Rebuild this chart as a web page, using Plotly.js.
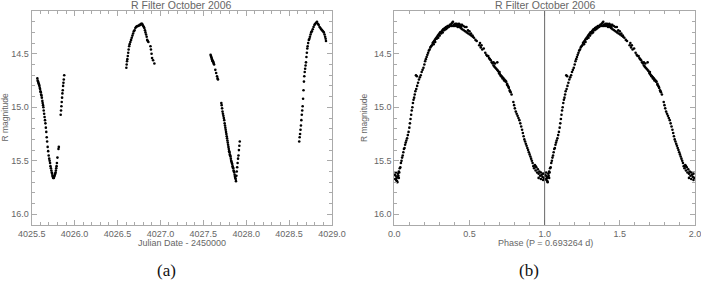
<!DOCTYPE html>
<html><head><meta charset="utf-8">
<script src="https://cdn.plot.ly/plotly-3.0.1.min.js"></script>
<style>html,body{margin:0;padding:0;background:#fff}#chart{width:701px;height:281px}</style>
</head><body><div id="chart"></div>
<script>
// Left panel: Julian Date - 2450000 and R magnitude
const jd = [
 4025.566,4025.570,4025.574,4025.578,4025.582,4025.586,4025.590,4025.594,4025.598,4025.602,4025.606,4025.610,4025.614,4025.618,4025.624,4025.628,4025.632,4025.636,4025.640,4025.645,4025.650,4025.655,4025.660,4025.665,4025.670,4025.675,4025.680,4025.686,4025.692,4025.698,4025.704,4025.709,4025.714,4025.719,4025.724,4025.729,4025.734,4025.738,4025.742,4025.746,4025.750,4025.754,4025.758,4025.762,4025.766,4025.770,4025.774,4025.778,4025.782,4025.786,4025.790,4025.794,4025.800,4025.812,4025.816,
 4025.838,4025.842,4025.846,4025.850,4025.854,4025.858,4025.862,4025.866,4025.870,4025.874,4025.879,
 4026.603,4026.607,4026.611,4026.615,4026.620,4026.625,4026.630,4026.636,4026.642,4026.650,4026.658,4026.666,4026.674,4026.682,4026.690,4026.698,4026.708,4026.716,4026.724,4026.732,4026.740,4026.750,4026.758,4026.767,4026.776,4026.786,4026.793,4026.800,4026.807,4026.813,4026.820,4026.826,4026.833,4026.840,4026.846,4026.853,4026.860,4026.884,4026.890,4026.897,4026.903,4026.915,4026.930,
 4027.585,4027.589,4027.593,4027.597,4027.601,4027.605,4027.609,4027.613,4027.617,4027.621,4027.626,4027.640,4027.650,4027.660,4027.666,4027.671,
 4027.710,4027.714,4027.719,4027.724,4027.729,4027.734,4027.739,4027.744,4027.749,4027.753,4027.757,4027.761,4027.765,4027.769,4027.773,4027.777,4027.781,4027.785,4027.789,4027.793,4027.797,4027.801,4027.805,4027.809,4027.813,4027.817,4027.821,4027.825,4027.829,4027.833,4027.837,4027.841,4027.845,4027.849,4027.853,4027.857,4027.861,4027.865,4027.869,4027.873,4027.877,4027.881,4027.886,4027.890,4027.895,4027.900,4027.905,4027.910,4027.915,4027.920,4027.925,
 4028.618,4028.623,4028.628,4028.633,4028.638,4028.643,4028.648,4028.653,4028.658,4028.663,4028.668,4028.673,4028.677,4028.682,4028.687,4028.692,4028.697,4028.702,4028.707,4028.712,4028.716,4028.722,4028.730,4028.737,4028.743,4028.750,4028.757,4028.765,4028.775,4028.785,4028.795,4028.805,4028.815,4028.825,4028.835,4028.845,4028.855,4028.865,4028.875,4028.885,4028.895,4028.905,4028.913,4028.920,4028.926,4028.930
];
const mag = [
 14.73,14.75,14.76,14.77,14.78,14.79,14.80,14.82,14.83,14.85,14.86,14.88,14.89,14.91,14.94,14.96,14.98,15.00,15.03,15.06,15.09,15.12,15.15,15.19,15.23,15.28,15.32,15.37,15.41,15.45,15.48,15.50,15.52,15.55,15.57,15.59,15.61,15.62,15.64,15.65,15.66,15.65,15.66,15.65,15.64,15.63,15.62,15.61,15.59,15.57,15.55,15.52,15.47,15.39,15.37,
 15.07,15.03,14.99,14.95,14.91,14.87,14.84,14.80,14.77,14.74,14.70,
 14.63,14.60,14.57,14.55,14.52,14.49,14.46,14.43,14.41,14.39,14.37,14.35,14.33,14.31,14.29,14.28,14.26,14.25,14.245,14.24,14.24,14.235,14.23,14.23,14.22,14.22,14.23,14.24,14.25,14.26,14.28,14.30,14.32,14.34,14.37,14.38,14.39,14.43,14.46,14.50,14.54,14.56,14.59,
 14.51,14.52,14.53,14.54,14.55,14.56,14.57,14.57,14.58,14.59,14.60,14.65,14.68,14.71,14.73,14.74,
 14.96,14.98,15.01,15.04,15.06,15.08,15.10,15.12,15.15,15.17,15.19,15.21,15.23,15.25,15.27,15.29,15.31,15.33,15.35,15.37,15.39,15.41,15.42,15.44,15.45,15.46,15.48,15.50,15.51,15.52,15.53,15.55,15.56,15.57,15.59,15.60,15.61,15.63,15.65,15.66,15.67,15.69,15.64,15.60,15.56,15.52,15.48,15.45,15.40,15.36,15.32,
 15.32,15.28,15.25,15.21,15.17,15.12,15.07,15.03,14.99,14.92,14.84,14.76,14.71,14.67,14.64,14.61,14.58,14.53,14.49,14.45,14.43,14.40,14.37,14.36,14.34,14.32,14.30,14.29,14.27,14.25,14.23,14.22,14.21,14.20,14.22,14.23,14.25,14.26,14.27,14.28,14.29,14.30,14.32,14.34,14.36,14.38
];

// Right panel: phase (P = 0.693264 d) and R magnitude, plotted over two cycles
const phase = [
 0.003,0.006,0.009,0.012,0.015,0.018,0.021,0.024,0.027,0.030,0.033,0.036,0.040,0.044,0.048,0.052,0.056,0.060,0.064,0.068,0.072,0.076,0.080,0.085,0.090,0.095,0.100,0.104,0.108,0.112,0.116,0.120,0.124,0.128,0.132,0.136,0.140,0.144,0.150,0.146,0.152,0.158,0.164,0.170,0.176,0.182,0.188,0.194,0.200,0.205,0.210,0.215,0.220,0.225,0.230,0.235,0.240,0.245,0.250,0.255,0.260,0.265,0.270,0.275,0.280,0.285,0.290,0.295,0.300,0.305,0.310,0.315,0.320,0.325,0.330,0.335,0.340,0.345,0.350,0.355,0.360,0.365,0.370,0.375,0.380,0.385,0.390,0.395,0.400,0.405,0.410,0.415,0.420,0.425,0.430,0.435,0.440,0.445,0.450,0.460,0.470,0.480,0.490,0.500,0.510,0.520,0.530,0.540,0.548,0.565,0.570,0.575,0.580,0.585,0.595,0.605,0.612,0.618,0.625,0.630,0.636,0.660,0.670,0.685,0.642,0.648,0.654,0.660,0.666,0.672,0.678,0.684,0.690,0.696,0.702,0.708,0.714,0.720,0.726,0.732,0.738,0.744,0.750,0.756,0.762,0.768,0.774,0.780,0.792,0.797,0.802,0.808,0.814,0.820,0.826,0.832,0.838,0.844,0.850,0.855,0.860,0.865,0.870,0.875,0.880,0.885,0.890,0.895,0.900,0.905,0.910,0.915,0.920,0.925,0.930,0.935,0.940,0.945,0.950,0.955,0.960,0.965,0.970,0.975,0.980,0.985,0.990,0.995,
 0.262,0.272,0.282,0.292,0.302,0.312,0.322,0.332,0.342,0.352,0.362,0.372,0.382,0.392,0.402,0.412,0.422,0.432,0.442,0.452,0.462,0.472,0.482,0.492,0.502,0.512,0.522,
 0.700,0.710,0.720,0.730,0.740,0.750,0.760,0.770,
 0.010,0.020,0.030,0.940,0.960,0.975,0.990
];
const phaseMag = [
 15.63,15.67,15.64,15.68,15.66,15.69,15.65,15.62,15.64,15.60,15.61,15.57,15.56,15.52,15.50,15.47,15.45,15.42,15.39,15.38,15.35,15.33,15.31,15.29,15.26,15.23,15.19,15.15,15.11,15.07,15.03,15.00,14.96,14.93,14.91,14.88,14.85,14.70,14.71,14.83,14.80,14.77,14.74,14.72,14.70,14.67,14.65,14.63,14.60,14.57,14.55,14.53,14.51,14.49,14.47,14.46,14.44,14.43,14.42,14.40,14.39,14.38,14.37,14.36,14.35,14.34,14.33,14.32,14.31,14.30,14.30,14.29,14.28,14.27,14.27,14.26,14.26,14.25,14.25,14.24,14.24,14.24,14.23,14.23,14.22,14.21,14.20,14.23,14.23,14.22,14.23,14.22,14.23,14.23,14.22,14.24,14.23,14.25,14.23,14.24,14.25,14.25,14.28,14.29,14.31,14.33,14.35,14.37,14.38,14.42,14.40,14.44,14.42,14.46,14.45,14.49,14.51,14.52,14.52,14.54,14.55,14.58,14.59,14.58,14.56,14.58,14.59,14.61,14.62,14.63,14.64,14.65,14.66,14.68,14.69,14.70,14.71,14.72,14.73,14.74,14.75,14.76,14.78,14.80,14.82,14.84,14.86,14.88,14.95,14.98,15.01,15.04,15.06,15.08,15.10,15.12,15.15,15.18,15.21,15.24,15.27,15.30,15.32,15.34,15.36,15.38,15.40,15.42,15.44,15.46,15.48,15.50,15.52,15.55,15.57,15.54,15.59,15.56,15.61,15.58,15.62,15.60,15.64,15.61,15.63,15.65,15.62,15.66,
 14.41,14.39,14.36,14.35,14.33,14.31,14.30,14.28,14.27,14.26,14.25,14.24,14.24,14.24,14.24,14.24,14.25,14.25,14.26,14.27,14.28,14.29,14.30,14.31,14.32,14.33,14.34,
 14.67,14.71,14.73,14.75,14.76,14.79,14.81,14.85,
 15.61,15.70,15.66,15.55,15.66,15.67,15.68
];
const phaseTwoCycles = phase.concat(phase.map(p => p + 1));
const phaseMagTwoCycles = phaseMag.concat(phaseMag);

const xTitles = ['Julian Date - 2450000', 'Phase (P = 0.693264 d)'];
const plotTitle = 'R Filter October 2006';
const yTitle = 'R magnitude';
const captions = ['(a)', '(b)'];

const W = 701, H = 281;
const gray = '#666';
const axisGray = '#aaa';
const sans = 'Liberation Sans, Arial, sans-serif';
const tickFont = {family: sans, size: 9, color: gray};
const px = v => v / W;
const py = v => 1 - v / H;

function xax(domain, range, anchor) {
  return {domain, range, anchor, tick0: 0, dtick: 0.5, tickformat: '.1f',
    ticks: 'inside', ticklen: 5, tickwidth: 1, tickcolor: axisGray,
    showline: true, linecolor: axisGray, linewidth: 1, mirror: 'ticks',
    showgrid: false, zeroline: false, tickfont: tickFont, ticklabeloverflow: 'allow',
    minor: {dtick: 0.1, ticks: 'inside', ticklen: 3, tickcolor: axisGray, showgrid: false}};
}
function yax(anchor) {
  return {domain: [py(225), py(11)], range: [16.1, 14.1], anchor, tick0: 14.5, dtick: 0.5, tickformat: '.1f',
    ticks: 'inside', ticklen: 5, tickwidth: 1, tickcolor: axisGray,
    showline: true, linecolor: axisGray, linewidth: 1, mirror: 'ticks',
    showgrid: false, zeroline: false, tickfont: tickFont,
    minor: {dtick: 0.1, ticks: 'inside', ticklen: 3, tickcolor: axisGray, showgrid: false}};
}

const marker = {color: '#000', size: 2.6, symbol: 'circle', line: {width: 0}};
const data = [
  {x: jd, y: mag, type: 'scatter', mode: 'markers', marker, xaxis: 'x', yaxis: 'y', hoverinfo: 'skip', cliponaxis: false},
  {x: phaseTwoCycles, y: phaseMagTwoCycles, type: 'scatter', mode: 'markers', marker, xaxis: 'x2', yaxis: 'y2', hoverinfo: 'skip', cliponaxis: false}
];

const textFont = {family: sans, size: 9, color: gray};
const yTitleFont = {family: sans, size: 8.5, color: gray};
const titleFont = {family: sans, size: 10.5, color: gray};
const capFont = {family: 'Liberation Serif, Times New Roman, serif', size: 17, color: '#111'};
const annotations = [
  {text: plotTitle, x: px(181), y: py(5), font: titleFont},
  {text: plotTitle, x: px(545), y: py(5), font: titleFont},
  {text: xTitles[0], x: px(182), y: py(243), font: textFont},
  {text: xTitles[1], x: px(545), y: py(243), font: textFont},
  {text: yTitle, x: px(4.5), y: py(118), textangle: -90, font: yTitleFont},
  {text: yTitle, x: px(364), y: py(118), textangle: -90, font: yTitleFont},
  {text: captions[0], x: px(166), y: py(270), font: capFont},
  {text: captions[1], x: px(529), y: py(270), font: capFont}
].map(a => Object.assign({xref: 'paper', yref: 'paper', showarrow: false, xanchor: 'center', yanchor: 'middle'}, a));

const layout = {
  width: W, height: H, margin: {l: 0, r: 0, t: 0, b: 0},
  paper_bgcolor: '#fff', plot_bgcolor: '#fff', showlegend: false,
  xaxis: xax([px(31.7), px(332)], [4025.5, 4029.0], 'y'),
  yaxis: yax('x'),
  xaxis2: xax([px(394.3), px(695)], [0, 2.0001], 'y2'),
  yaxis2: yax('x2'),
  shapes: [{type: 'line', xref: 'x2', yref: 'y2 domain', x0: 1, x1: 1, y0: 0, y1: 1, line: {color: '#666', width: 1}}],
  annotations
};

Plotly.newPlot('chart', data, layout, {staticPlot: true, displayModeBar: false});
</script>
</body></html>
